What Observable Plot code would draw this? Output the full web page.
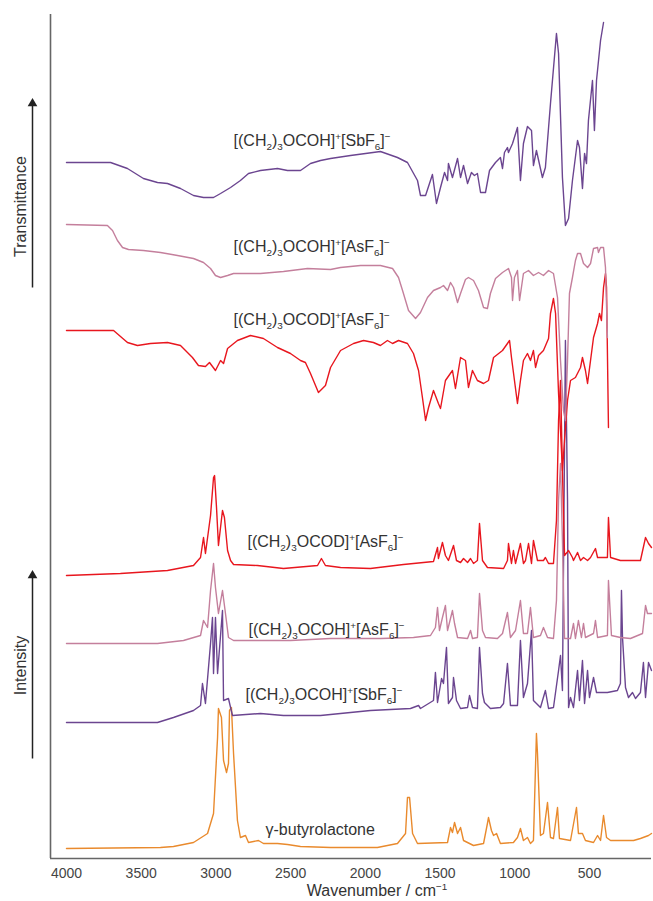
<!DOCTYPE html>
<html>
<head>
<meta charset="utf-8">
<script src="https://cdn.jsdelivr.net/npm/d3@7"></script>
<script src="https://cdn.jsdelivr.net/npm/@observablehq/plot@0.6"></script>
<style>
  html, body { margin: 0; padding: 0; background: #fff; }
  #chart { width: 653px; height: 901px; }
</style>
</head>
<body>
<div id="chart"></div>
<script>
// ---------- data (wavenumber / cm-1, relative signal in arbitrary stacked units) ----------
const xTicks = [4000, 3500, 3000, 2500, 2000, 1500, 1000, 500];

// IR spectra (transmittance, offset)
const irSbF6 = [[4000,696],[3705,696],[3592,690],[3485,680],[3391,676],[3324,675],[3237,670],[3150,663],[3083,661],[3016,661],[2969,665],[2902,671],[2836,678],[2782,685],[2702,688],[2588,690],[2521,688],[2434,688],[2367,695],[2300,698],[2233,700],[2099,703],[1899,707],[1785,701],[1718,696],[1651,678],[1631,663],[1597,663],[1551,684],[1524,655],[1497,671],[1470,686],[1450,678],[1444,695],[1417,681],[1383,700],[1363,681],[1343,693],[1316,675],[1290,686],[1270,683],[1250,685],[1229,666],[1196,666],[1169,688],[1129,696],[1096,701],[1082,690],[1069,706],[1049,711],[1042,706],[1015,715],[982,731],[962,678],[942,715],[915,732],[888,728],[875,693],[855,708],[815,681],[795,691],[761,755],[721,825],[707,805],[681,681],[661,633],[640,640],[614,678],[580,718],[567,711],[547,670],[533,705],[520,695],[507,738],[480,778],[467,728],[453,778],[426,818],[406,836]];

const irAsF6 = [[4000,634],[3726,633],[3692,628],[3659,618],[3625,611],[3585,609],[3485,608],[3371,606],[3257,603],[3150,600],[3083,596],[3036,590],[3003,583],[2969,581],[2922,583],[2882,585],[2702,585],[2548,587],[2387,590],[2233,589],[2166,591],[2032,593],[1899,593],[1818,590],[1778,581],[1751,568],[1711,548],[1664,540],[1631,546],[1584,561],[1544,568],[1497,571],[1477,573],[1450,568],[1430,576],[1410,571],[1383,556],[1363,565],[1330,579],[1310,581],[1276,578],[1243,568],[1209,551],[1183,550],[1163,565],[1129,580],[1082,586],[1042,590],[1022,581],[1015,558],[1002,581],[982,588],[968,558],[942,585],[908,588],[875,583],[841,586],[808,583],[774,588],[741,585],[714,561],[694,498],[674,448],[661,438],[647,498],[634,565],[614,581],[594,598],[580,605],[560,605],[540,595],[513,591],[493,595],[473,610],[446,611],[440,606],[426,611],[406,611],[393,591],[380,521]];

const irOCOD = [[4000,528],[3685,528],[3592,516],[3525,513],[3438,515],[3324,516],[3237,513],[3157,501],[3117,493],[3070,492],[3043,496],[3003,488],[2969,498],[2949,495],[2922,510],[2856,518],[2769,523],[2682,520],[2588,511],[2501,505],[2434,498],[2401,496],[2367,485],[2314,466],[2267,473],[2233,491],[2166,508],[2079,515],[2012,518],[1946,516],[1899,513],[1852,518],[1818,515],[1778,518],[1718,515],[1678,505],[1644,488],[1618,461],[1597,438],[1577,451],[1544,468],[1511,455],[1497,450],[1464,478],[1417,488],[1397,470],[1363,501],[1330,498],[1310,471],[1283,488],[1250,478],[1209,475],[1176,478],[1142,501],[1082,508],[1049,515],[1035,518],[1022,501],[982,455],[962,478],[942,498],[915,505],[895,498],[875,508],[861,491],[841,503],[808,508],[774,520],[761,545],[741,560],[727,545],[707,465],[694,428],[681,388],[667,418],[647,458],[627,478],[594,481],[560,491],[547,501],[527,488],[513,475],[493,498],[473,521],[446,535],[433,545],[420,538],[406,571],[393,585],[386,571],[373,431]];

// Raman spectra (intensity, offset)
const ramOCOD = [[4000,283],[3639,285],[3324,288],[3150,293],[3103,301],[3083,321],[3070,305],[3036,343],[3016,381],[3009,383],[2996,351],[2983,313],[2956,348],[2943,341],[2922,308],[2902,298],[2882,294],[2722,293],[2548,290],[2320,293],[2294,300],[2267,293],[2166,291],[1966,290],[1745,294],[1544,297],[1517,311],[1511,300],[1484,316],[1464,303],[1444,298],[1410,313],[1390,298],[1363,296],[1343,300],[1316,296],[1296,300],[1276,295],[1250,298],[1236,335],[1216,298],[1183,291],[1075,290],[1049,298],[1042,315],[1022,295],[1009,308],[995,295],[962,315],[942,295],[928,298],[908,315],[888,295],[875,318],[848,298],[808,298],[795,301],[774,295],[741,295],[721,338],[707,438],[694,478],[681,388],[667,303],[640,308],[614,301],[607,298],[580,306],[560,298],[540,301],[513,298],[493,301],[460,310],[446,301],[380,301],[373,341],[359,301],[293,298],[159,298],[125,321],[105,315],[85,311]];

const ramAsF6 = [[4000,215],[3391,215],[3217,218],[3103,223],[3083,238],[3056,231],[3036,268],[3016,295],[3003,271],[2983,245],[2956,268],[2936,245],[2916,221],[2882,218],[2501,218],[2233,220],[1899,220],[1678,221],[1564,223],[1531,231],[1517,251],[1504,228],[1484,241],[1464,253],[1450,228],[1417,248],[1403,235],[1383,221],[1316,220],[1296,228],[1283,220],[1250,221],[1236,265],[1216,228],[1196,221],[1116,220],[1082,225],[1049,246],[1029,221],[995,228],[962,258],[942,225],[915,225],[895,251],[875,221],[828,223],[808,231],[781,221],[741,220],[721,258],[707,358],[694,395],[681,318],[667,220],[627,220],[607,235],[594,220],[574,238],[554,221],[540,235],[527,221],[473,225],[460,238],[446,221],[380,223],[373,278],[353,223],[293,221],[226,220],[145,225],[125,253],[112,245],[85,245]];

const ramSbF6 = [[4000,136],[3391,136],[3284,141],[3150,148],[3103,153],[3090,175],[3070,155],[3036,215],[3023,241],[3016,185],[3003,241],[2989,185],[2956,248],[2949,158],[2916,160],[2902,151],[2889,143],[2702,145],[2548,143],[2300,143],[1966,148],[1698,150],[1644,153],[1631,150],[1544,158],[1531,186],[1517,156],[1490,180],[1477,175],[1457,211],[1444,155],[1417,161],[1410,181],[1390,158],[1363,150],[1316,151],[1303,163],[1283,151],[1250,150],[1236,211],[1216,165],[1203,156],[1163,150],[1096,151],[1075,155],[1049,195],[1029,153],[982,153],[962,218],[942,161],[915,175],[888,228],[875,158],[828,151],[795,168],[774,150],[741,151],[707,188],[694,203],[681,168],[661,518],[647,358],[640,151],[627,161],[607,151],[580,188],[567,158],[547,198],[533,155],[513,188],[500,161],[473,181],[453,166],[380,166],[313,168],[293,175],[286,268],[279,221],[259,171],[239,161],[212,166],[192,160],[159,166],[139,196],[125,161],[105,196],[85,188]];

const ramGBL = [[4000,10],[3371,11],[3284,12],[3150,16],[3056,25],[3016,45],[2989,121],[2983,150],[2963,141],[2949,98],[2929,86],[2916,95],[2909,148],[2896,151],[2882,105],[2856,38],[2836,21],[2802,23],[2782,16],[2715,18],[2682,15],[2588,15],[2521,14],[2434,12],[2233,11],[1919,11],[1785,15],[1731,25],[1718,61],[1704,61],[1684,25],[1651,15],[1450,16],[1430,31],[1417,26],[1403,36],[1383,25],[1363,31],[1343,18],[1276,13],[1209,15],[1183,35],[1176,41],[1156,28],[1142,23],[1122,25],[1096,15],[1009,16],[982,21],[962,30],[942,18],[915,21],[895,15],[875,18],[855,125],[848,105],[828,23],[808,25],[781,56],[761,21],[741,20],[714,51],[701,20],[627,18],[587,51],[574,25],[547,25],[527,18],[473,16],[446,23],[426,18],[406,43],[386,21],[359,18],[205,18],[159,20],[105,23],[85,25]];

// series labels (markup: _x subscript, ^x superscript)
const labelText = ["[(CH_2)_3OCOH]^+[SbF_6]^−","[(CH_2)_3OCOH]^+[AsF_6]^−","[(CH_2)_3OCOD]^+[AsF_6]^−","[(CH_2)_3OCOD]^+[AsF_6]^−","[(CH_2)_3OCOH]^+[AsF_6]^−","[(CH_2)_3OCOH]^+[SbF_6]^−","γ-butyrolactone"];
const labelW = [2882, 2882, 2882, 2789, 2782, 2802, 2668];
const labelV = [718, 612, 539, 317, 229, 164, 29];

const axisNames = ["Transmittance", "Intensity"];
const axisArrowFrom = [571, 100];
const axisArrowTo = [755, 283];
const axisNameAt = [652, 193];
const xTitle = "Wavenumber / cm^{−1}";

// ---------- chart ----------
const xDomain = [4107, 85];
const yDomain = [0, 844];
const purple = "#6b4590", pink = "#c47f9c", red = "#e8161e", orange = "#e98a2d";
const font = "'Liberation Sans', Arial, sans-serif";

const labels = labelText.map((t, i) => ({t, w: labelW[i], v: labelV[i]}));
const arrows = axisNames.map((n, i) => ({n, from: axisArrowFrom[i], to: axisArrowTo[i], at: axisNameAt[i]}));

const lineOpts = (color) => ({x: d => d[0], y: d => d[1], stroke: color, strokeWidth: 1.4, strokeLinejoin: "round"});

const plot = Plot.plot({
  width: 653,
  height: 901,
  marginLeft: 50,
  marginRight: 2,
  marginTop: 14,
  marginBottom: 43,
  style: {fontFamily: font, fontSize: "14px", background: "#fff", color: "#444", overflow: "visible"},
  x: {domain: xDomain, ticks: xTicks, tickSize: 0, tickPadding: 10, tickFormat: d => String(d), label: null},
  y: {domain: yDomain, axis: null},
  marks: [
    Plot.line(ramGBL, lineOpts(orange)),
    Plot.line(ramSbF6, lineOpts(purple)),
    Plot.line(ramAsF6, lineOpts(pink)),
    Plot.line(ramOCOD, lineOpts(red)),
    Plot.line(irOCOD, lineOpts(red)),
    Plot.line(irAsF6, lineOpts(pink)),
    Plot.line(irSbF6, lineOpts(purple)),
    Plot.ruleX([xDomain[0]], {stroke: "#666", strokeWidth: 1.6}),
    Plot.ruleY([yDomain[0]], {stroke: "#666", strokeWidth: 1.6}),
    Plot.text(labels, {x: "w", y: "v", text: "t", textAnchor: "start", fontSize: 16, fill: "#333"}),
    Plot.link(arrows, {x1: () => xDomain[0], x2: () => xDomain[0], y1: "from", y2: d => d.to - 1, dx: -18, stroke: "#222", strokeWidth: 1.5}),
    Plot.dot(arrows, {x: () => xDomain[0], y: "to", dx: -18, symbol: "triangle", r: 3.6, fill: "#222", stroke: "none"}),
    Plot.text(arrows, {x: () => xDomain[0], y: "at", text: "n", dx: -30, rotate: -90, fontSize: 16, fill: "#333"}),
    Plot.text([xTitle], {text: d => d, frameAnchor: "bottom", dx: 26, dy: 37, fontSize: 16, fill: "#333"})
  ]
});

// rich text: subscripts / superscripts
d3.select(plot).selectAll("text").each(function() {
  const s = this.textContent;
  if (!/[_^]/.test(s)) return;
  const chars = Array.from(s);
  const runs = [];
  let buf = "", i = 0;
  while (i < chars.length) {
    const c = chars[i];
    if (c === "_" || c === "^") {
      if (buf) runs.push({t: buf, k: 0});
      buf = "";
      let j = i + 1, t = "";
      if (chars[j] === "{") { j++; while (j < chars.length && chars[j] !== "}") t += chars[j++]; j++; }
      else { t = chars[j++]; }
      runs.push({t, k: c === "_" ? 1 : -1});
      i = j;
    } else { buf += c; i++; }
  }
  if (buf) runs.push({t: buf, k: 0});
  const el = d3.select(this);
  el.selectAll("*").remove();
  el.text(null);
  let cur = 0;
  for (const r of runs) {
    const target = r.k === 1 ? 4 : r.k === -1 ? -5.5 : 0;
    const ts = el.append("tspan").attr("dy", target - cur).text(r.t);
    if (r.k) ts.attr("font-size", "0.62em");
    cur = target;
  }
});

document.getElementById("chart").appendChild(plot);
</script>
</body>
</html>
